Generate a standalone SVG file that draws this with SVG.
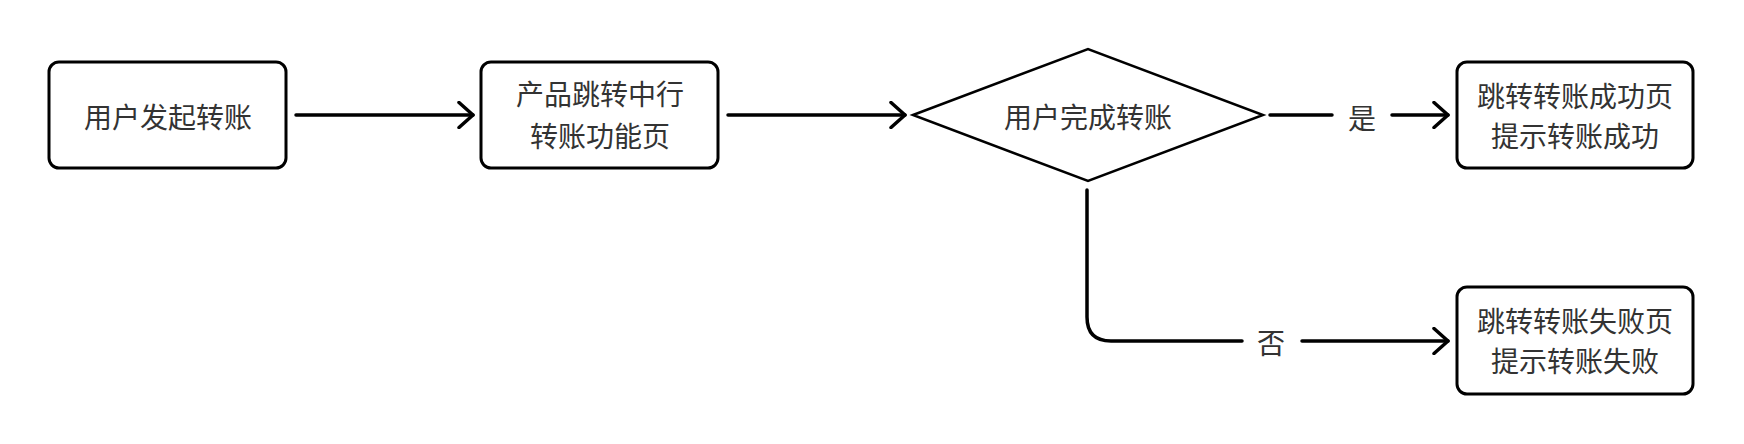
<svg xmlns="http://www.w3.org/2000/svg" width="1744" height="444" viewBox="0 0 1744 444">
  <defs>
    <style>
      .box { fill: #ffffff; stroke: #000000; stroke-width: 3; }
      .dia { fill: #ffffff; stroke: #000000; stroke-width: 2.5; stroke-linejoin: miter; }
      .t { font-family: "Noto Sans CJK SC", "Noto Sans", sans-serif; font-size: 28px; fill: #333333; text-anchor: middle; }
      .c { fill: none; stroke: #000000; stroke-width: 3.5; stroke-linecap: round; stroke-linejoin: round; }
    </style>
    <marker id="arr" viewBox="-16 -14 20 28" markerWidth="20" markerHeight="28" refX="0" refY="0" orient="auto" markerUnits="userSpaceOnUse">
      <path d="M -14 -12.5 L 0 0 L -14 12.5" fill="none" stroke="#000000" stroke-width="3.5" stroke-linecap="round" stroke-linejoin="round"/>
    </marker>
  </defs>
  <rect width="1744" height="444" fill="#ffffff"/>

  <g id="connectors">
    <path class="c" d="M 296 115 L 473 115" marker-end="url(#arr)"/>
    <path class="c" d="M 728 115 L 905 115" marker-end="url(#arr)"/>
    <path class="c" d="M 1270 115 L 1332 115"/>
    <path class="c" d="M 1392 115 L 1448 115" marker-end="url(#arr)"/>
    <text class="t" x="1362" y="129">是</text>
    <path class="c" d="M 1087 190 L 1087 317 Q 1087 341 1111 341 L 1242 341"/>
    <path class="c" d="M 1302 341 L 1448 341" marker-end="url(#arr)"/>
    <text class="t" x="1271" y="354">否</text>
  </g>

  <g id="n1">
    <rect class="box" x="49" y="62" width="237" height="106" rx="10" ry="10"/>
    <text class="t" x="168" y="128">用户发起转账</text>
  </g>

  <g id="n2">
    <rect class="box" x="481" y="62" width="237" height="106" rx="10" ry="10"/>
    <text class="t" x="600" y="104.5">产品跳转中行</text>
    <text class="t" x="600" y="147">转账功能页</text>
  </g>

  <g id="n3">
    <polygon class="dia" points="913,115 1088,49 1263,115 1088,181"/>
    <text class="t" x="1088" y="128">用户完成转账</text>
  </g>

  <g id="n4">
    <rect class="box" x="1457" y="62" width="236" height="106" rx="10" ry="10"/>
    <text class="t" x="1575" y="106.5">跳转转账成功页</text>
    <text class="t" x="1575" y="146.5">提示转账成功</text>
  </g>

  <g id="n5">
    <rect class="box" x="1457" y="287" width="236" height="107" rx="10" ry="10"/>
    <text class="t" x="1575" y="331.5">跳转转账失败页</text>
    <text class="t" x="1575" y="371.5">提示转账失败</text>
  </g>
</svg>
